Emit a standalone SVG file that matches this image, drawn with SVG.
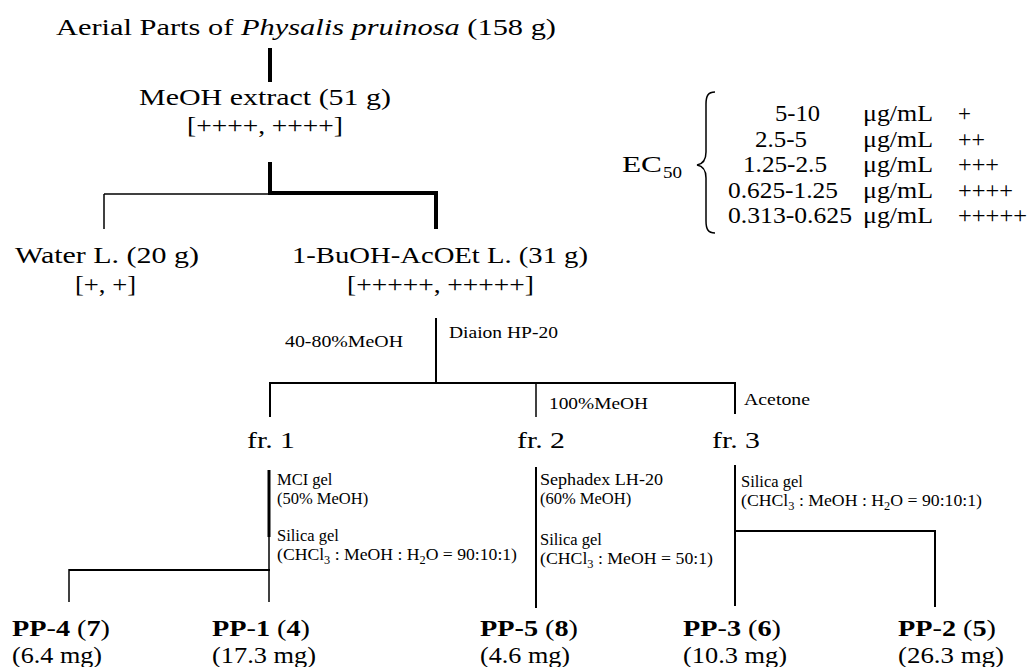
<svg xmlns="http://www.w3.org/2000/svg" width="1031" height="667" viewBox="0 0 1031 667">
<style>
text{font-family:"Liberation Serif","Times New Roman",serif;fill:#000}
.big{font-size:23px}
.mid{font-size:17px}
.sm{font-size:16.5px}
.ec{font-size:23px}
.pp{font-size:24px}
.b{font-weight:bold}
.sub{font-size:11.5px}
line,path{stroke:#000;fill:none}
.t1{stroke-width:1.5}
.t2{stroke-width:2}
.t3{stroke-width:3}
.t4{stroke-width:4}
</style>
<rect width="1031" height="667" fill="#fff"/>
<g id="connectors">
<line class="t4" x1="270" y1="48" x2="270" y2="82"/>
<line class="t4" x1="270" y1="162" x2="270" y2="195"/>
<line class="t1" x1="104" y1="194" x2="270" y2="194"/>
<line class="t4" x1="268" y1="193" x2="438" y2="193"/>
<line class="t1" x1="104" y1="194" x2="104" y2="229"/>
<line class="t4" x1="436" y1="191" x2="436" y2="229"/>
<line class="t2" x1="436" y1="318" x2="436" y2="383"/>
<line class="t2" x1="269" y1="383" x2="736" y2="383"/>
<line class="t2" x1="270" y1="382" x2="270" y2="417"/>
<line class="t1" x1="536" y1="383" x2="536" y2="417"/>
<line class="t2" x1="735" y1="382" x2="735" y2="414"/>
<line class="t3" x1="269" y1="470" x2="269" y2="537"/>
<line class="t1" x1="269" y1="537" x2="269" y2="602"/>
<line class="t2" x1="69" y1="570" x2="270" y2="570"/>
<line class="t1" x1="69" y1="569" x2="69" y2="602"/>
<line class="t2" x1="536" y1="467" x2="536" y2="608"/>
<line class="t2" x1="735" y1="465" x2="735" y2="606"/>
<line class="t2" x1="734" y1="531" x2="936" y2="531"/>
<line class="t2" x1="935" y1="530" x2="935" y2="607"/>
</g>
<g id="n-plant">
<text class="big" x="56" y="35" textLength="500" lengthAdjust="spacingAndGlyphs">Aerial  Parts of <tspan font-style="italic">Physalis pruinosa</tspan> (158 g)</text>
</g>
<g id="n-meoh">
<text class="big" x="139" y="105" textLength="252" lengthAdjust="spacingAndGlyphs">MeOH extract (51 g)</text>
<text class="big" x="187" y="133" textLength="156" lengthAdjust="spacingAndGlyphs">[++++, ++++]</text>
</g>
<g id="n-water">
<text class="big" x="15" y="263" textLength="184" lengthAdjust="spacingAndGlyphs">Water L. (20 g)</text>
<text class="big" x="75" y="292" textLength="61" lengthAdjust="spacingAndGlyphs">[+, +]</text>
</g>
<g id="n-buoh">
<text class="big" x="292" y="263" textLength="296" lengthAdjust="spacingAndGlyphs">1-BuOH-AcOEt L. (31 g)</text>
<text class="big" x="347" y="292" textLength="187" lengthAdjust="spacingAndGlyphs">[+++++, +++++]</text>
</g>
<g id="legend">
<text class="big" x="622" y="172" textLength="40" lengthAdjust="spacingAndGlyphs">EC</text>
<text x="663" y="178" font-size="17" textLength="19" lengthAdjust="spacingAndGlyphs">50</text>
<path class="t1" d="M715,92 C708,92 706,96 706,104 L706,152 C706,160 703,164 697,165 C703,166 706,170 706,178 L706,221 C706,229 708,233 715,233"/>
<text class="ec" x="775" y="121" textLength="45" lengthAdjust="spacingAndGlyphs">5-10</text>
<text class="ec" x="755" y="146.5" textLength="52" lengthAdjust="spacingAndGlyphs">2.5-5</text>
<text class="ec" x="743" y="172" textLength="84" lengthAdjust="spacingAndGlyphs">1.25-2.5</text>
<text class="ec" x="728" y="197.5" textLength="110" lengthAdjust="spacingAndGlyphs">0.625-1.25</text>
<text class="ec" x="728" y="223" textLength="124" lengthAdjust="spacingAndGlyphs">0.313-0.625</text>
<text class="ec" x="863" y="121" textLength="70" lengthAdjust="spacingAndGlyphs">μg/mL</text>
<text class="ec" x="863" y="146.5" textLength="70" lengthAdjust="spacingAndGlyphs">μg/mL</text>
<text class="ec" x="863" y="172" textLength="70" lengthAdjust="spacingAndGlyphs">μg/mL</text>
<text class="ec" x="863" y="197.5" textLength="70" lengthAdjust="spacingAndGlyphs">μg/mL</text>
<text class="ec" x="863" y="223" textLength="70" lengthAdjust="spacingAndGlyphs">μg/mL</text>
<text class="ec" x="958" y="121">+</text>
<text class="ec" x="958" y="146.5" textLength="27" lengthAdjust="spacingAndGlyphs">++</text>
<text class="ec" x="958" y="172" textLength="41" lengthAdjust="spacingAndGlyphs">+++</text>
<text class="ec" x="958" y="197.5" textLength="55" lengthAdjust="spacingAndGlyphs">++++</text>
<text class="ec" x="958" y="223" textLength="69" lengthAdjust="spacingAndGlyphs">+++++</text>
</g>
<g id="e-diaion">
<text class="mid" x="285" y="347" textLength="118" lengthAdjust="spacingAndGlyphs">40-80%MeOH</text>
<text class="mid" x="449" y="338" textLength="109" lengthAdjust="spacingAndGlyphs">Diaion HP-20</text>
<text class="mid" x="549" y="409" textLength="99" lengthAdjust="spacingAndGlyphs">100%MeOH</text>
<text class="mid" x="744" y="405" textLength="66" lengthAdjust="spacingAndGlyphs">Acetone</text>
</g>
<g id="n-fr1">
<text class="big" x="247" y="448" textLength="48" lengthAdjust="spacingAndGlyphs">fr. 1</text>
<text class="sm" x="277" y="485">MCI gel</text>
<text class="sm" x="277" y="503.5">(50% MeOH)</text>
<text class="sm" x="277" y="541">Silica gel</text>
<text class="sm" x="277" y="559.5" textLength="240" lengthAdjust="spacingAndGlyphs">(CHCl<tspan class="sub" dy="4">3</tspan><tspan dy="-4"> : MeOH : H</tspan><tspan class="sub" dy="4">2</tspan><tspan dy="-4">O = 90:10:1)</tspan></text>
</g>
<g id="n-fr2">
<text class="big" x="517" y="448" textLength="48" lengthAdjust="spacingAndGlyphs">fr. 2</text>
<text class="sm" x="540" y="485" textLength="123" lengthAdjust="spacingAndGlyphs">Sephadex LH-20</text>
<text class="sm" x="540" y="503.5">(60% MeOH)</text>
<text class="sm" x="540" y="545">Silica gel</text>
<text class="sm" x="540" y="563.5" textLength="173" lengthAdjust="spacingAndGlyphs">(CHCl<tspan class="sub" dy="4">3</tspan><tspan dy="-4"> : MeOH = 50:1)</tspan></text>
</g>
<g id="n-fr3">
<text class="big" x="712" y="448" textLength="48" lengthAdjust="spacingAndGlyphs">fr. 3</text>
<text class="sm" x="741" y="487">Silica gel</text>
<text class="sm" x="741" y="505.5" textLength="241" lengthAdjust="spacingAndGlyphs">(CHCl<tspan class="sub" dy="4">3</tspan><tspan dy="-4"> : MeOH : H</tspan><tspan class="sub" dy="4">2</tspan><tspan dy="-4">O = 90:10:1)</tspan></text>
</g>
<g id="n-pp4">
<text class="pp" x="12" y="636" textLength="98" lengthAdjust="spacingAndGlyphs"><tspan class="b">PP</tspan>-<tspan class="b">4</tspan> (<tspan class="b">7</tspan>)</text>
<text class="pp" x="12" y="663" textLength="90" lengthAdjust="spacingAndGlyphs">(6.4 mg)</text>
</g>
<g id="n-pp1">
<text class="pp" x="212" y="636" textLength="98" lengthAdjust="spacingAndGlyphs"><tspan class="b">PP</tspan>-<tspan class="b">1</tspan> (<tspan class="b">4</tspan>)</text>
<text class="pp" x="212" y="663" textLength="104" lengthAdjust="spacingAndGlyphs">(17.3 mg)</text>
</g>
<g id="n-pp5">
<text class="pp" x="480" y="636" textLength="98" lengthAdjust="spacingAndGlyphs"><tspan class="b">PP-5</tspan> (<tspan class="b">8</tspan>)</text>
<text class="pp" x="480" y="663" textLength="90" lengthAdjust="spacingAndGlyphs">(4.6 mg)</text>
</g>
<g id="n-pp3">
<text class="pp" x="683" y="636" textLength="98" lengthAdjust="spacingAndGlyphs"><tspan class="b">PP</tspan>-<tspan class="b">3</tspan> (<tspan class="b">6</tspan>)</text>
<text class="pp" x="683" y="663" textLength="104" lengthAdjust="spacingAndGlyphs">(10.3 mg)</text>
</g>
<g id="n-pp2">
<text class="pp" x="898" y="636" textLength="98" lengthAdjust="spacingAndGlyphs"><tspan class="b">PP</tspan>-<tspan class="b">2</tspan> (<tspan class="b">5</tspan>)</text>
<text class="pp" x="898" y="663" textLength="106" lengthAdjust="spacingAndGlyphs">(26.3 mg)</text>
</g>
</svg>
